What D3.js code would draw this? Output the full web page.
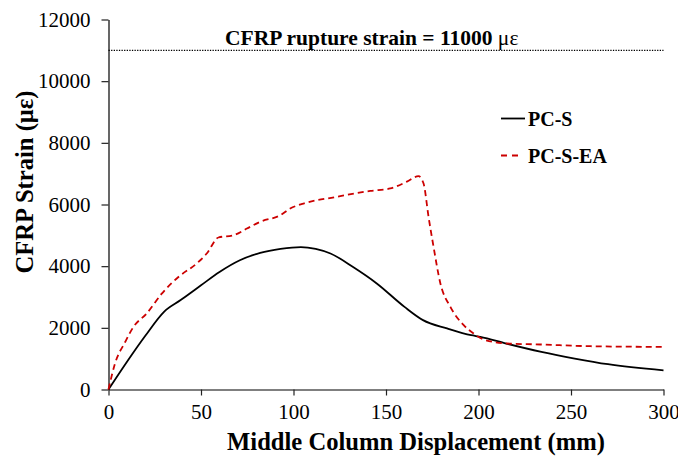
<!DOCTYPE html>
<html>
<head>
<meta charset="utf-8">
<script src="https://cdn.jsdelivr.net/npm/d3@7/dist/d3.min.js"></script>
<style>
  html, body { margin: 0; padding: 0; background: #fff; }
  svg { display: block; font-family: "Liberation Serif", "Times New Roman", serif; }
</style>
</head>
<body>
<svg id="chart" width="678" height="463"></svg>
<script>
// Middle column displacement (mm) vs CFRP strain (με)
const pcsDisp   = [0, 10, 20, 30, 39, 50, 60, 71, 82, 93, 104, 112, 120, 132, 145, 160, 170, 183, 196, 201, 215, 234, 252, 270, 300];
const pcsStrain = [0, 900, 1750, 2520, 2900, 3380, 3810, 4190, 4430, 4560, 4620, 4560, 4410, 3980, 3440, 2680, 2250, 1980, 1760, 1710, 1490, 1220, 1005, 820, 620];

const eaDisp   = [0, 3.5, 9, 13.5, 20.7, 28.8, 37.8, 47.7, 53.1, 59.4, 67.5, 74.8, 82, 92.8, 98.2, 105.4, 123.5, 141.5, 152.3, 161.3, 167.6, 170.3, 173, 175.7, 179.4, 184.8, 192, 197.4, 202.8, 215.4, 233.5, 260.5, 300];
const eaStrain = [0, 840, 1540, 2030, 2470, 3110, 3650, 4090, 4410, 4930, 5000, 5220, 5440, 5650, 5870, 6030, 6250, 6440, 6520, 6740, 6920, 6680, 5600, 4630, 3440, 2680, 2085, 1816, 1622, 1492, 1460, 1404, 1382];

const ruptureStrain = 11000;
const xTicks = [0, 50, 100, 150, 200, 250, 300];
const yTicks = [0, 2000, 4000, 6000, 8000, 10000, 12000];

const seriesNames = ["PC-S", "PC-S-EA"];

const svg = d3.select("#chart");
const plotLeft = 108.5, plotRight = 663.5, plotTop = 19.5, plotBottom = 389.5;

const x = d3.scaleLinear().domain([0, 300]).range([plotLeft, plotRight]);
const y = d3.scaleLinear().domain([0, 12000]).range([plotBottom, plotTop]);

// Axes
const xAxis = svg.append("g")
  .attr("transform", `translate(0,${plotBottom})`)
  .call(d3.axisBottom(x).tickValues(xTicks).tickFormat(d3.format("d"))
    .tickSize(6).tickSizeOuter(0).tickPadding(9));
const yAxis = svg.append("g")
  .attr("transform", `translate(${plotLeft},0)`)
  .call(d3.axisLeft(y).tickValues(yTicks).tickFormat(d3.format("d"))
    .tickSize(7).tickSizeOuter(0).tickPadding(11));

[xAxis, yAxis].forEach(g => {
  g.attr("font-family", null).attr("font-size", null);
  g.select(".domain").attr("stroke", "#000").attr("stroke-width", 1.2);
  g.selectAll(".tick line").attr("stroke", "#222").attr("stroke-width", 1.2);
  g.selectAll(".tick text")
    .attr("fill", "#000")
    .style("font-family", "\"Liberation Serif\", \"Times New Roman\", serif")
    .style("font-size", "21px");
});

// Rupture strain reference line
svg.append("line")
  .attr("x1", x(0)).attr("x2", x(300))
  .attr("y1", y(ruptureStrain)).attr("y2", y(ruptureStrain))
  .attr("stroke", "#000").attr("stroke-width", 1.1)
  .attr("stroke-dasharray", "1.3,1.3");

const rupLabel = svg.append("text")
  .attr("x", 225).attr("y", 45)
  .style("font-size", "21.5px").style("font-weight", "bold").attr("fill", "#000");
rupLabel.append("tspan").text(`CFRP rupture strain = ${ruptureStrain} `);
rupLabel.append("tspan").style("font-weight", "normal").text("με");

// Curves
const line = d3.line()
  .x(d => x(d[0]))
  .y(d => y(d[1]))
  .curve(d3.curveMonotoneX);

svg.append("path")
  .datum(pcsDisp.map((d, i) => [d, pcsStrain[i]]))
  .attr("d", line)
  .attr("fill", "none")
  .attr("stroke", "#000")
  .attr("stroke-width", 1.8);

svg.append("path")
  .datum(eaDisp.map((d, i) => [d, eaStrain[i]]))
  .attr("d", line)
  .attr("fill", "none")
  .attr("stroke", "#cc0000")
  .attr("stroke-width", 1.8)
  .attr("stroke-dasharray", "6,4");

// Legend
const legend = svg.append("g");
legend.append("line")
  .attr("x1", 501).attr("x2", 525).attr("y1", 118.5).attr("y2", 118.5)
  .attr("stroke", "#000").attr("stroke-width", 1.8);
legend.append("text")
  .attr("x", 528).attr("y", 126)
  .style("font-size", "20px").style("font-weight", "bold")
  .text(seriesNames[0]);
legend.append("line")
  .attr("x1", 501).attr("x2", 521).attr("y1", 155.5).attr("y2", 155.5)
  .attr("stroke", "#cc0000").attr("stroke-width", 1.8)
  .attr("stroke-dasharray", "6,5");
legend.append("text")
  .attr("x", 528).attr("y", 163)
  .style("font-size", "20px").style("font-weight", "bold")
  .text(seriesNames[1]);

// Axis titles
svg.append("text")
  .attr("x", 416).attr("y", 450)
  .attr("text-anchor", "middle")
  .style("font-size", "24.6px").style("font-weight", "bold")
  .text("Middle Column Displacement (mm)");

svg.append("text")
  .attr("transform", "translate(33,182) rotate(-90)")
  .attr("text-anchor", "middle")
  .style("font-size", "24.6px").style("font-weight", "bold")
  .text("CFRP Strain (με)");
</script>
</body>
</html>
